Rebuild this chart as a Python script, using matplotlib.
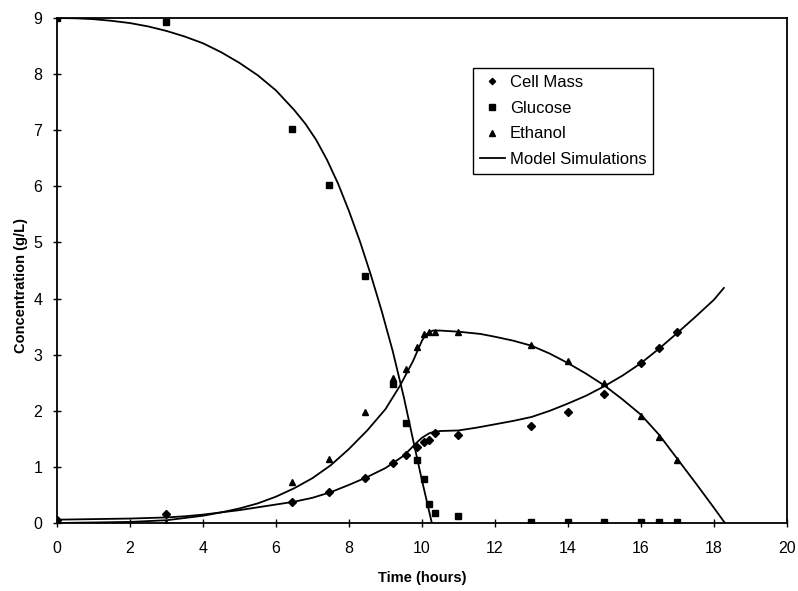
import matplotlib
matplotlib.use("Agg")
import matplotlib.pyplot as plt
from matplotlib.lines import Line2D

plt.rcParams['font.family'] = ['Liberation Sans', 'DejaVu Sans']

# Measured data (time in hours)
time = [0, 3, 6.45, 7.45, 8.45, 9.2, 9.55, 9.85, 10.05, 10.2, 10.35, 11, 13, 14, 15, 16, 16.5, 17]
cell_mass = [0.06, 0.16, 0.37, 0.55, 0.80, 1.07, 1.21, 1.36, 1.44, 1.48, 1.60, 1.57, 1.73, 1.98, 2.30, 2.85, 3.12, 3.40]
glucose = [9.0, 8.93, 7.03, 6.03, 4.40, 2.48, 1.78, 1.12, 0.78, 0.34, 0.18, 0.12, 0.02, 0.02, 0.02, 0.02, 0.02, 0.02]
ethanol = [0.0, 0.0, 0.73, 1.14, 1.97, 2.58, 2.75, 3.14, 3.37, 3.40, 3.40, 3.40, 3.17, 2.89, 2.50, 1.91, 1.54, 1.12]

# Model simulation curves
sim_t_glucose = [0, 0.5, 1, 1.5, 2, 2.5, 3, 3.5, 4, 4.5, 5, 5.5, 6, 6.5, 6.8, 7.1, 7.4, 7.7,
                 8.0, 8.3, 8.6, 8.9, 9.2, 9.5, 9.75, 10.0, 10.27]
sim_glucose = [9.0, 8.995, 8.98, 8.95, 8.91, 8.85, 8.77, 8.67, 8.55, 8.39, 8.2, 7.98, 7.71, 7.36,
               7.12, 6.83, 6.47, 6.05, 5.56, 5.02, 4.42, 3.77, 3.06, 2.25, 1.5, 0.76, 0.0]

sim_t_ethanol = [0, 1, 2, 3, 3.5, 4, 4.5, 5, 5.5, 6, 6.5, 7, 7.5, 8, 8.5, 9, 9.4, 9.75, 10.0, 10.1,
                 10.2, 10.3, 10.5, 11, 11.6, 12.0, 12.5, 13, 13.5, 14, 14.5, 15, 15.5, 16, 16.5,
                 17, 17.5, 18, 18.3]
sim_ethanol = [0.0, 0.01, 0.02, 0.05, 0.09, 0.13, 0.19, 0.26, 0.35, 0.47, 0.62, 0.8, 1.03, 1.32,
               1.65, 2.03, 2.45, 2.88, 3.25, 3.35, 3.40, 3.43, 3.43, 3.41, 3.37, 3.32, 3.25, 3.16,
               3.02, 2.85, 2.66, 2.45, 2.2, 1.93, 1.57, 1.14, 0.71, 0.27, 0.0]

sim_t_cell = [0, 1, 2, 3, 3.5, 4, 4.5, 5, 5.5, 6, 6.5, 7, 7.5, 8, 8.5, 9, 9.5, 9.85, 10.0, 10.1,
              10.2, 10.3, 10.5, 11, 11.5, 12, 12.5, 13, 13.5, 14, 14.5, 15, 15.5, 16, 16.5, 17,
              17.5, 18, 18.27]
sim_cell = [0.06, 0.07, 0.08, 0.10, 0.12, 0.15, 0.19, 0.23, 0.28, 0.33, 0.38, 0.45, 0.55, 0.68,
            0.82, 0.98, 1.2, 1.43, 1.52, 1.56, 1.60, 1.62, 1.64, 1.65, 1.70, 1.76, 1.82, 1.89,
            2.0, 2.13, 2.27, 2.44, 2.63, 2.85, 3.11, 3.39, 3.68, 3.98, 4.19]

x_ticks = [0, 2, 4, 6, 8, 10, 12, 14, 16, 18, 20]
y_ticks = [0, 1, 2, 3, 4, 5, 6, 7, 8, 9]

fig = plt.figure(figsize=(7.98, 5.91), dpi=100)
ax = fig.add_axes([0.0714, 0.115, 0.9148, 0.8545])

ax.plot(sim_t_glucose, sim_glucose, color='black', lw=1.3)
ax.plot(sim_t_ethanol, sim_ethanol, color='black', lw=1.3)
ax.plot(sim_t_cell, sim_cell, color='black', lw=1.3)

h1, = ax.plot(time, cell_mass, 'D', color='black', markersize=4, linestyle='none', label='Cell Mass')
h2, = ax.plot(time, glucose, 's', color='black', markersize=5, linestyle='none', label='Glucose')
h3, = ax.plot(time, ethanol, '^', color='black', markersize=5, linestyle='none', label='Ethanol')
h4 = Line2D([], [], color='black', lw=1.3, label='Model Simulations')

ax.set_xlim(0, 20)
ax.set_ylim(0, 9)
ax.set_xticks(x_ticks)
ax.set_yticks(y_ticks)
ax.tick_params(direction='inout', length=6, width=1, labelsize=11.5)
ax.tick_params(axis='x', pad=10)
ax.tick_params(axis='y', pad=7.5)
for s in ax.spines.values():
    s.set_linewidth(1.3)

ax.set_xlabel('Time (hours)', fontsize=10.5, fontweight='bold')
ax.set_ylabel('Concentration (g/L)', fontsize=10.5, fontweight='bold')
ax.xaxis.set_label_coords(0.5, -0.095)
ax.yaxis.set_label_coords(-0.040, 0.47)

leg = ax.legend(handles=[h1, h2, h3, h4], loc='upper left', bbox_to_anchor=(0.570, 0.901),
                borderaxespad=0, fancybox=False, edgecolor='black', framealpha=1,
                fontsize=12, handlelength=1.5, handletextpad=0.3, labelspacing=0.65,
                borderpad=0.4, markerscale=0.8)
leg.get_frame().set_linewidth(1.0)

fig.savefig('out.png', dpi=100)
